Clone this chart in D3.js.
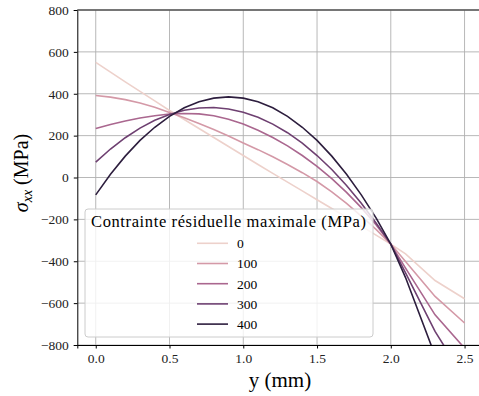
<!DOCTYPE html>
<html>
<head>
<meta charset="utf-8">
<script src="https://cdn.jsdelivr.net/npm/d3@7"></script>
</head>
<body style="margin:0;background:#fff">
<div id="chart"></div>
<script>
// positions along y (mm)
const yPositions = [0, 0.1, 0.2, 0.3, 0.4, 0.5, 0.6, 0.7, 0.8, 0.9, 1.0, 1.1, 1.2, 1.3, 1.4, 1.5, 1.6, 1.7, 1.8, 1.9, 2.0, 2.1, 2.3, 2.5];

// sigma_xx (MPa) for each maximal residual stress
const levels = [0, 100, 200, 300, 400];
const sigma0   = [550, 503, 457, 411, 366, 320, 277, 234, 191, 148, 105, 62, 20, -22, -64, -106, -148, -190, -232, -275, -318, -365, -492, -579];
const sigma100 = [392, 384, 372, 356, 336, 311, 285, 258, 229, 198, 165, 133, 99, 62, 23, -19, -69, -124, -184, -248, -318, -401, -568, -695];
const sigma200 = [234, 253, 270, 284, 295, 303, 306, 304, 295, 278, 255, 226, 191, 151, 105, 53, -5, -71, -144, -226, -318, -433, -656, -815];
const sigma300 = [73, 136, 190, 236, 273, 301, 321, 332, 334, 327, 312, 288, 255, 214, 164, 105, 38, -38, -123, -217, -318, -455, -735, -960];
const sigma400 = [-83, 15, 102, 177, 240, 292, 333, 362, 379, 385, 379, 362, 333, 292, 240, 177, 102, 15, -83, -193, -318, -478, -850, -1100];

const xTicks = [0, 0.5, 1.0, 1.5, 2.0, 2.5];
const yTicks = [-800, -600, -400, -200, 0, 200, 400, 600, 800];
const palette = ["#edd1cb", "#d499a7", "#aa678f", "#6e4071", "#2d1e3e"];

const FONT = '"Liberation Serif"';

const series = levels.map((lvl, i) => ({
  level: lvl,
  values: [sigma0, sigma100, sigma200, sigma300, sigma400][i].map((v, j) => ({ x: yPositions[j], y: v }))
}));

const W = 479, H = 396;
const margin = { top: 10, left: 77.3 };
const width = 405.7, height = 335;

const svg = d3.select("#chart").append("svg")
  .attr("width", W).attr("height", H)
  .style("display", "block")
  .style("font-family", FONT);

const g = svg.append("g").attr("transform", `translate(${margin.left},${margin.top})`);

const x = d3.scaleLinear().domain([-0.125, 2.625]).range([0, width]);
const y = d3.scaleLinear().domain([-800, 800]).range([height, 0]);
const color = d3.scaleOrdinal().domain(levels).range(palette);

// grid
g.append("g").selectAll("line").data(xTicks).join("line")
  .attr("x1", d => x(d)).attr("x2", d => x(d))
  .attr("y1", 0).attr("y2", height)
  .attr("stroke", "#b0b0b0").attr("stroke-width", 0.9);
g.append("g").selectAll("line").data(yTicks).join("line")
  .attr("x1", 0).attr("x2", width)
  .attr("y1", d => y(d)).attr("y2", d => y(d))
  .attr("stroke", "#b0b0b0").attr("stroke-width", 0.9);

g.append("clipPath").attr("id", "clip")
  .append("rect").attr("width", width).attr("height", height);

const line = d3.line().x(d => x(d.x)).y(d => y(d.y));

g.append("g").attr("clip-path", "url(#clip)")
  .selectAll("path").data(series).join("path")
  .attr("d", d => line(d.values))
  .attr("fill", "none")
  .attr("stroke", d => color(d.level))
  .attr("stroke-width", 1.6);

// axes
const xAxis = g.append("g").attr("transform", `translate(0,${height})`)
  .call(d3.axisBottom(x).tickValues(xTicks).tickFormat(d3.format(".1f")).tickSize(3.5).tickPadding(5));
const yAxis = g.append("g")
  .call(d3.axisLeft(y).tickValues(yTicks).tickSize(3.5).tickPadding(5));
[xAxis, yAxis].forEach(a => {
  a.attr("font-size", 13.5).style("font-family", FONT);
  a.select(".domain").attr("stroke", "#000").attr("stroke-width", 1);
  a.selectAll(".tick line").attr("stroke", "#000");
  a.selectAll("text").attr("fill", "#222").style("font-family", FONT);
});

// top spine
g.append("line").attr("x1", 0).attr("x2", width).attr("y1", 0).attr("y2", 0)
  .attr("stroke", "#555").attr("stroke-width", 1.3);

// axis labels
svg.append("text")
  .attr("x", 280).attr("y", 387)
  .attr("text-anchor", "middle")
  .attr("font-size", 21)
  .style("font-family", FONT)
  .text("y (mm)");

const yl = svg.append("text")
  .attr("transform", "translate(28,173) rotate(-90)")
  .attr("text-anchor", "middle")
  .attr("font-size", 20)
  .style("font-family", FONT);
yl.append("tspan").attr("font-style", "italic").text("σ");
yl.append("tspan").attr("font-style", "italic").attr("font-size", 14).attr("dy", 4).text("xx");
yl.append("tspan").attr("dy", -4).text(" (MPa)");

// legend
const legend = svg.append("g").attr("transform", "translate(85,209)");
legend.append("rect")
  .attr("width", 288).attr("height", 128)
  .attr("rx", 3)
  .attr("fill", "#fff").attr("fill-opacity", 0.8)
  .attr("stroke", "#cccccc").attr("stroke-width", 1);
legend.append("text")
  .attr("x", 6).attr("y", 18)
  .attr("font-size", 16.5)
  .attr("textLength", 275)
  .attr("lengthAdjust", "spacing")
  .style("font-family", FONT)
  .text("Contrainte résiduelle maximale (MPa)");
const items = legend.selectAll(".item").data(levels).join("g")
  .attr("class", "item")
  .attr("transform", (d, i) => `translate(0,${34.3 + i * 20.2})`);
items.append("line")
  .attr("x1", 112).attr("x2", 143)
  .attr("stroke", d => color(d)).attr("stroke-width", 1.6);
items.append("text")
  .attr("x", 152).attr("y", 4.8)
  .attr("font-size", 13.5)
  .style("font-family", FONT)
  .text(d => d);
</script>
</body>
</html>
